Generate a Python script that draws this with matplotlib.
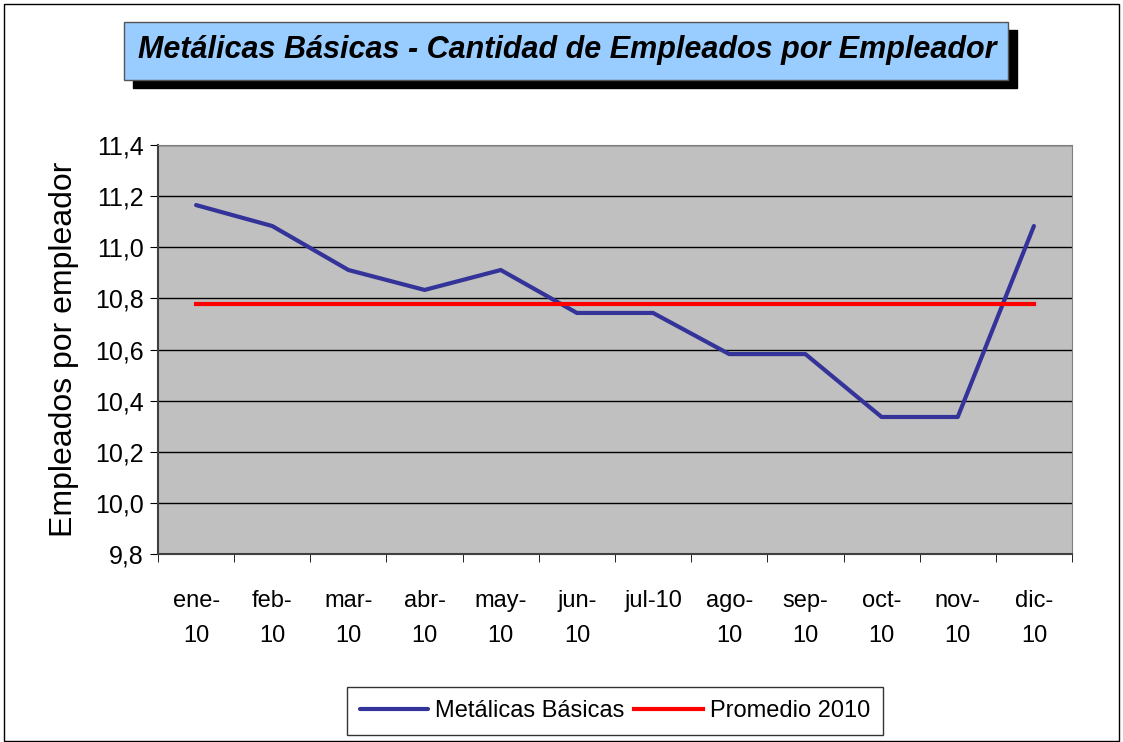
import numpy as np
import matplotlib.pyplot as plt
from matplotlib.patches import Rectangle

# Datos
meses = ["ene-\n10", "feb-\n10", "mar-\n10", "abr-\n10", "may-\n10", "jun-\n10",
         "jul-10\n", "ago-\n10", "sep-\n10", "oct-\n10", "nov-\n10", "dic-\n10"]
metalicas = [11.165, 11.083, 10.911, 10.833, 10.911, 10.743,
             10.743, 10.582, 10.582, 10.336, 10.336, 11.083]
promedio = [10.778] * 12

plt.rcParams['font.family'] = ['Liberation Sans', 'DejaVu Sans']

fig = plt.figure(figsize=(11.23, 7.42), dpi=100)

# Borde exterior
fig.patches.append(Rectangle((0.004, 0.002), 0.992, 0.993, transform=fig.transFigure,
                             fill=False, edgecolor='black', linewidth=1))

# Caja del titulo con sombra
fig.patches.append(Rectangle((124/1123 + 0.008, 1 - 88/742), 884/1123, 58/742,
                             transform=fig.transFigure, facecolor='black', edgecolor='black'))
fig.patches.append(Rectangle((124/1123, 1 - 80/742), 884/1123, 58/742,
                             transform=fig.transFigure, facecolor='#99CCFF', edgecolor='#555555',
                             linewidth=1))
fig.text(567/1123, 1 - 50/742, "Metálicas Básicas - Cantidad de Empleados por Empleador",
         ha='center', va='center', fontsize=22, fontweight='bold', fontstyle='italic')

ax = fig.add_axes([158/1123, 1 - 554/742, 914/1123, 409/742])
ax.set_facecolor('#C0C0C0')

x = np.arange(len(meses))
ax.plot(x, metalicas, color='#333399', linewidth=3, label='Metálicas Básicas',
        solid_capstyle='round')
ax.plot(x, promedio, color='#FF0000', linewidth=3, label='Promedio 2010')

ax.set_xlim(-0.5, len(meses) - 0.5)
ax.set_ylim(9.8, 11.4)
yt = np.arange(9.8, 11.41, 0.2)
ax.set_yticks(yt)
ax.set_yticklabels([f"{v:.1f}".replace('.', ',') for v in yt], fontsize=18)
ax.yaxis.grid(True, color='black', linewidth=1)
ax.set_axisbelow(True)

ax.set_xticks(x)
ax.set_xticklabels(meses, fontsize=17, linespacing=1.75)
ax.set_xticks(np.arange(-0.5, len(meses)), minor=True)
ax.tick_params(axis='x', which='major', length=0, pad=26)
ax.tick_params(axis='x', which='minor', length=6, color='black')
ax.tick_params(axis='y', length=6, color='black', pad=4)

for s in ['top', 'right']:
    ax.spines[s].set_color('#808080')
for s in ['left', 'bottom']:
    ax.spines[s].set_color('#404040')
    ax.spines[s].set_linewidth(1.5)

ax.set_ylabel("Empleados por empleador", fontsize=23, labelpad=12)

leg = fig.legend(loc='center', bbox_to_anchor=(615/1123, 1 - 711/742), ncol=2,
                 fontsize=17, frameon=True, fancybox=False, edgecolor='black',
                 handlelength=2.9, columnspacing=0.4, handletextpad=0.3,
                 borderpad=0.55)
leg.get_frame().set_linewidth(1)

fig.savefig('out.png', dpi=100)
